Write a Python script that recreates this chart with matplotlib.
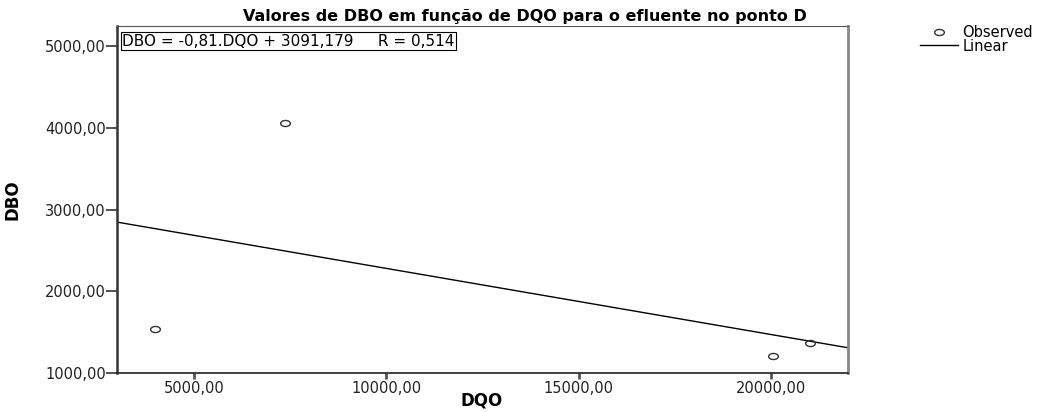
import matplotlib.pyplot as plt
import numpy as np
from matplotlib.path import Path
from matplotlib.transforms import Affine2D
from matplotlib.ticker import FuncFormatter

plt.rcParams['font.family'] = ['DejaVu Sans']

dqo = [4000, 7360, 20040, 21020]
dbo = [1540, 4060, 1208, 1368]

# Linear fit shown on the chart
slope = -0.081
intercept = 3091.179
fit_label = "DBO = -0,81.DQO + 3091,179     R = 0,514"

x_ticks = [5000, 10000, 15000, 20000]
y_ticks = [1000, 2000, 3000, 4000, 5000]


def comma_fmt(v, pos):
    return f"{v:.2f}".replace(".", ",")


# wide open circle, like the SPSS marker
ellipse = Path.unit_circle().transformed(Affine2D().scale(1.6, 1.0))

fig = plt.figure(figsize=(10.49, 4.12), dpi=100)
ax = fig.add_axes([117 / 1049, 1 - 373 / 412, (848 - 117) / 1049, (373 - 26) / 412])

ax.set_xlim(3000, 22000)
ax.set_ylim(1000, 5250)

xs = np.array(ax.get_xlim())
ax.plot(xs, slope * xs + intercept, color='black', linewidth=1.0, label='Linear')
ax.plot(dqo, dbo, linestyle='none', marker=ellipse, markersize=7,
        markerfacecolor='none', markeredgecolor='#333333', markeredgewidth=1.0,
        label='Observed')

ax.set_xticks(x_ticks)
ax.set_yticks(y_ticks)
ax.xaxis.set_major_formatter(FuncFormatter(comma_fmt))
ax.yaxis.set_major_formatter(FuncFormatter(comma_fmt))
ax.tick_params(axis='both', labelsize=10.5, labelcolor='#222222')
ax.tick_params(axis='x', width=2, length=4, color='#555555', pad=2)
ax.tick_params(axis='y', width=1.2, length=8, color='#333333', pad=0)

ax.spines['left'].set_linewidth(1.8)
ax.spines['left'].set_color('#333333')
ax.spines['bottom'].set_linewidth(1.2)
ax.spines['bottom'].set_color('#222222')
ax.spines['top'].set_linewidth(0.8)
ax.spines['top'].set_color('#555555')
ax.spines['right'].set_linewidth(2.0)
ax.spines['right'].set_color('#888888')

ax.set_xlabel('DQO', fontsize=12, fontweight='bold')
ax.xaxis.set_label_coords((482 - 117) / 731, -(392 - 373) / 347)
ax.set_ylabel('DBO', fontsize=12, fontweight='bold')
ax.yaxis.set_label_coords(-(117 - 22) / 731, 0.5)

ax.text(0.007, 0.978, fit_label, transform=ax.transAxes, fontsize=11,
        va='top', ha='left',
        bbox=dict(boxstyle='square,pad=0.08', facecolor='white',
                  edgecolor='black', linewidth=0.8))

fig.text(525 / 1049, 1 - 17 / 412,
         'Valores de DBO em função de DQO para o efluente no ponto D',
         ha='center', va='center', fontsize=11.5, fontweight='bold')

handles, labels = ax.get_legend_handles_labels()
fig.legend(handles[::-1], labels[::-1], loc='upper left',
           bbox_to_anchor=(920 / 1049, 1 - 25 / 412), frameon=False,
           fontsize=10.5, handlelength=2.6, handletextpad=0.3,
           labelspacing=-0.1, borderpad=0, borderaxespad=0)

fig.savefig('out.png', dpi=100)
